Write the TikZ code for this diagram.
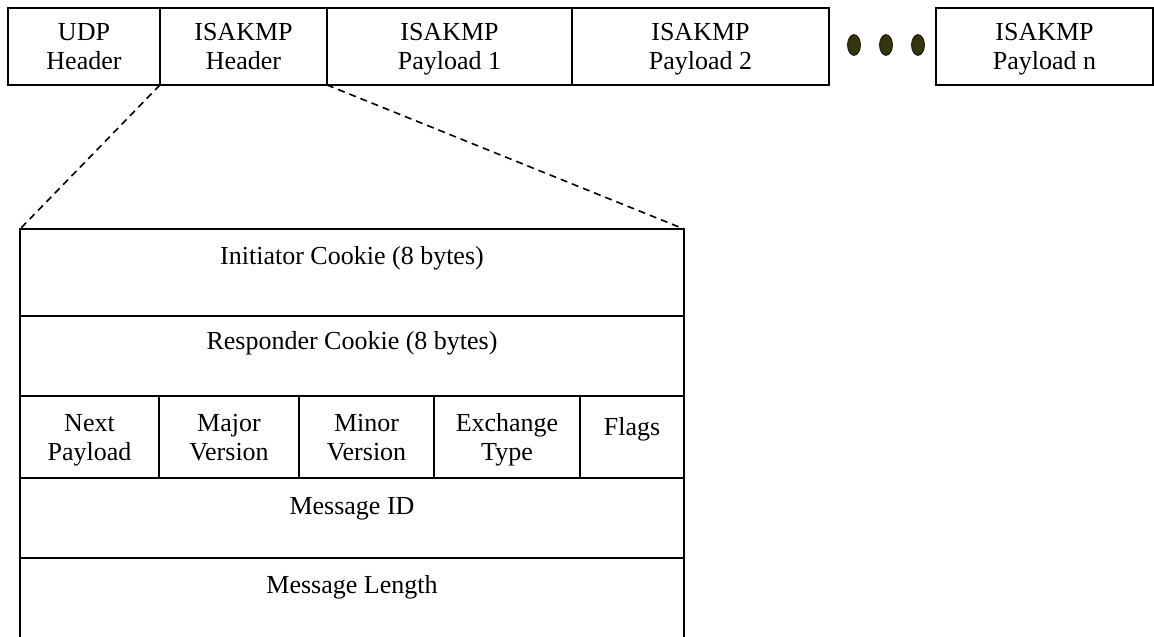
\documentclass[tikz,border=0pt]{standalone}
\usepackage{fontspec}
\setmainfont{Liberation Serif}
\usepackage{xcolor}
\usepackage{tikz}
\usetikzlibrary{arrows.meta}
\definecolor{dotolive}{RGB}{56,52,10}

\begin{document}
\begin{tikzpicture}[x=1pt, y=-1pt, line width=1.6pt]
\tikzstyle{field}=[draw, rectangle, inner sep=0pt, outer sep=0pt, align=center,
  text depth=0pt, font=\fontsize{26}{29}\selectfont]
\tikzstyle{top}=[field, minimum height=77, text depth=-4pt]
\tikzstyle{label}=[anchor=base, inner sep=0pt, font=\fontsize{26}{29}\selectfont]
\useasboundingbox (0,0) rectangle (1154,637);

% packet
\node[top, minimum width=152] (udp) at (84,46.5) {UDP\\Header};
\node[top, minimum width=167] (hdr) at (243.5,46.5) {ISAKMP\\Header};
\node[top, minimum width=245] (pl1) at (449.5,46.5) {ISAKMP\\Payload 1};
\node[top, minimum width=257] (pl2) at (700.5,46.5) {ISAKMP\\Payload 2};
\node[top, minimum width=217] (pln) at (1044.5,46.5) {ISAKMP\\Payload n};
\foreach \x in {854,886,918}
  \filldraw[fill=dotolive, draw=black, line width=0.6pt] (\x,45) ellipse (6.5 and 10.5);

% header frame
\coordinate (ftl) at (20,229);
\coordinate (ftr) at (684,229);
\draw (20,637) -- (ftl) -- (ftr) -- (684,637);
\draw (20,316) -- (684,316);
\draw (20,558) -- (684,558);

\node[label] (icookie) at (352,264) {Initiator Cookie (8 bytes)};
\node[label] (rcookie) at (352,349) {Responder Cookie (8 bytes)};
\node[field, minimum width=139, minimum height=82] (next) at (89.5,437) {Next\\Payload};
\node[field, minimum width=140, minimum height=82] (major) at (229,437) {Major\\Version};
\node[field, minimum width=135, minimum height=82] (minor) at (366.5,437) {Minor\\Version};
\node[field, minimum width=146, minimum height=82] (exch) at (507,437) {Exchange\\Type};
\node[field, minimum width=104, minimum height=82, text depth=22pt] (flags) at (632,437) {Flags};
\node[label] (msgid) at (352,514) {Message ID};
\node[label] (msglen) at (352,593) {Message Length};

\path[dash pattern=on 7pt off 5pt]
(hdr.south west) edge (ftl)
(hdr.south east) edge (ftr);
\end{tikzpicture}
\end{document}
